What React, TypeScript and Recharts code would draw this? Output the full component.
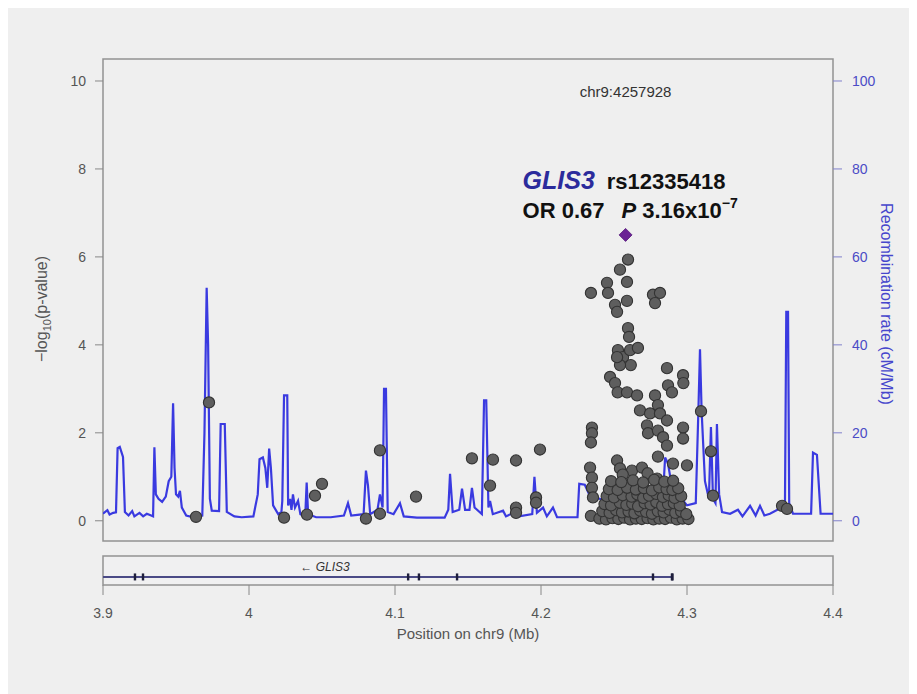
import React from 'react';
import { ComposedChart, Line, Scatter, XAxis, YAxis, ReferenceArea } from 'recharts';

const FONT = '"Liberation Sans", Arial, Helvetica, sans-serif';

// Axes
const X_DOMAIN: [number, number] = [3.9, 4.4];
const X_TICKS = [3.9, 4.0, 4.1, 4.2, 4.3, 4.4];
const P_DOMAIN: [number, number] = [-0.46, 10.5];
const P_TICKS = [0, 2, 4, 6, 8, 10];
const R_DOMAIN: [number, number] = [-4.6, 105];
const R_TICKS = [0, 20, 40, 60, 80, 100];

// Recombination rate (position Mb, cM/Mb)
const RECOMB: [number, number][] = [
  [3.9000, 1.6], [3.9030, 2.4], [3.9045, 1.4], [3.9070, 1.8], [3.9089, 1.9], [3.9100, 16.5], [3.9115, 16.8],
  [3.9137, 14.5], [3.9150, 2.0], [3.9175, 1.2], [3.9200, 2.2], [3.9215, 1.0], [3.9250, 1.8], [3.9275, 1.0],
  [3.9300, 1.6], [3.9330, 1.2], [3.9343, 1.0], [3.9352, 16.7], [3.9362, 6.0], [3.9380, 5.0], [3.9405, 4.3],
  [3.9430, 5.5], [3.9450, 9.0], [3.9468, 10.0], [3.9480, 26.7], [3.9490, 12.0], [3.9500, 6.0], [3.9515, 5.5],
  [3.9527, 6.8], [3.9540, 3.0], [3.9570, 1.2], [3.9620, 0.8], [3.9680, 1.2], [3.9695, 20], [3.9710, 53],
  [3.9720, 40], [3.9732, 5], [3.9745, 2.3], [3.9795, 2.2], [3.9806, 22], [3.9834, 22], [3.9848, 2.0],
  [3.9900, 1.0], [3.9950, 0.8], [4.0030, 1.0], [4.0060, 6.0], [4.0072, 14.0], [4.0095, 14.4], [4.0112, 12.0],
  [4.0125, 7.5], [4.0138, 16.4], [4.0150, 12.0], [4.0165, 3.5], [4.0200, 1.5], [4.0222, 2.0], [4.0228, 4.5],
  [4.0240, 28.5], [4.0262, 28.5], [4.0268, 3.5], [4.0281, 5.0], [4.0291, 2.5], [4.0301, 6.0], [4.0315, 3.0],
  [4.0336, 4.5], [4.0352, 1.5], [4.0385, 1.0], [4.0395, 8.7], [4.0405, 1.5], [4.0460, 0.8], [4.0560, 0.8],
  [4.0650, 1.2], [4.0678, 4.0], [4.0700, 1.2], [4.0785, 1.5], [4.0801, 11.4], [4.0815, 8.0], [4.0830, 1.5],
  [4.0880, 2.5], [4.0897, 6.0], [4.0915, 3.0], [4.0925, 30], [4.0938, 30], [4.0950, 2.0], [4.0990, 1.5],
  [4.1034, 4.0], [4.1060, 1.0], [4.1150, 0.7], [4.1340, 0.7], [4.1365, 2.5], [4.1377, 10.7], [4.1395, 2.0],
  [4.1440, 2.5], [4.1459, 7.3], [4.1480, 2.5], [4.1510, 2.5], [4.1527, 7.5], [4.1545, 3.0], [4.1595, 1.5],
  [4.1610, 27.4], [4.1625, 27.4], [4.1640, 3.0], [4.1651, 4.5], [4.1670, 1.5], [4.1740, 2.3], [4.1760, 1.0],
  [4.1822, 2.0], [4.1850, 1.0], [4.1940, 1.5], [4.1955, 10.0], [4.1972, 1.8], [4.2014, 3.0], [4.2040, 1.0],
  [4.2082, 3.0], [4.2110, 0.8], [4.2250, 0.8], [4.2262, 8.4], [4.2300, 8.2], [4.2330, 6.0], [4.2400, 5.0],
  [4.2500, 4.0], [4.2600, 5.0], [4.2700, 6.0], [4.2800, 5.0], [4.2836, 6.0], [4.2850, 14.4], [4.2870, 13.0],
  [4.2890, 9.0], [4.2940, 6.0], [4.3000, 3.5], [4.3060, 4.0], [4.3078, 25], [4.3089, 39], [4.3100, 25],
  [4.3123, 9.0], [4.3150, 5.0], [4.3164, 21.3], [4.3178, 5.0], [4.3195, 4.0], [4.3205, 22.0], [4.3220, 6.0],
  [4.3240, 2.0], [4.3295, 1.6], [4.3349, 2.5], [4.3380, 1.0], [4.3432, 3.4], [4.3470, 1.2], [4.3500, 3.4],
  [4.3530, 1.2], [4.3568, 1.6], [4.3620, 2.5], [4.3640, 4.0], [4.3671, 4.0], [4.3680, 47.5], [4.3692, 47.5],
  [4.3700, 4.0], [4.3726, 1.6], [4.3850, 1.6], [4.3863, 15.5], [4.3890, 15.0], [4.3915, 1.6], [4.4000, 1.6],
];

// SNPs outside the association peak (position Mb, -log10 p)
const SNPS_FLANK: [number, number][] = [
  [3.9637, 0.09], [3.9726, 2.69], [4.0240, 0.07], [4.0397, 0.14], [4.0452, 0.57], [4.0500, 0.84],
  [4.0801, 0.05], [4.0897, 1.60], [4.0897, 0.16], [4.1144, 0.55], [4.1527, 1.42], [4.1651, 0.80],
  [4.1671, 1.39], [4.1829, 1.37], [4.1829, 0.30], [4.1829, 0.18], [4.1993, 1.62], [4.1966, 0.53],
  [4.1966, 0.41], [4.3096, 2.49], [4.3164, 1.58], [4.3178, 0.57], [4.3651, 0.34], [4.3685, 0.27],
];

// SNPs in the association peak, upper part
const SNPS_PEAK_HIGH: [number, number][] = [
  [4.2596, 5.94], [4.2541, 5.71], [4.2589, 5.43], [4.2452, 5.41], [4.2459, 5.18], [4.2342, 5.18],
  [4.2589, 5.00], [4.2507, 4.91], [4.2521, 4.75], [4.2767, 5.14], [4.2815, 5.18], [4.2781, 4.95],
  [4.2596, 4.38], [4.2603, 4.18], [4.2527, 3.88], [4.2562, 3.72], [4.2610, 3.88], [4.2664, 3.93],
  [4.2615, 3.54], [4.2541, 3.54], [4.2521, 3.72], [4.2473, 3.27], [4.2507, 3.13], [4.2525, 2.92],
  [4.2589, 2.92], [4.2658, 2.85], [4.2781, 2.85], [4.2863, 3.47], [4.2870, 3.08], [4.2897, 2.92],
  [4.2973, 3.31], [4.2975, 3.13], [4.2678, 2.51], [4.2747, 2.44], [4.2801, 2.63], [4.2815, 2.44],
  [4.2863, 2.28], [4.2726, 2.17], [4.2733, 1.99], [4.2801, 2.05], [4.2836, 1.90], [4.2863, 1.71],
  [4.2973, 2.12], [4.2973, 1.87], [4.2801, 1.46], [4.2904, 1.30], [4.3000, 1.26], [4.2521, 1.37],
  [4.2541, 1.19], [4.2623, 1.14], [4.2692, 1.21], [4.2795, 0.96], [4.2493, 0.75], [4.2560, 1.05],
  [4.2730, 1.08], [4.2349, 2.12], [4.2349, 1.99], [4.2342, 1.78], [4.2336, 1.21], [4.2349, 0.98],
  [4.2349, 0.75], [4.2356, 0.53], [4.2342, 0.11],
];

// SNPs in the association peak, dense lower part
const SNPS_PEAK_LOW: [number, number][] = [
  [4.2400, 0.05], [4.2445, 0.03], [4.2490, 0.06], [4.2530, 0.04], [4.2570, 0.07], [4.2610, 0.03],
  [4.2650, 0.05], [4.2690, 0.04], [4.2730, 0.06], [4.2770, 0.03], [4.2810, 0.05], [4.2850, 0.04],
  [4.2890, 0.07], [4.2930, 0.03], [4.2970, 0.05], [4.3010, 0.04],
  [4.2420, 0.22], [4.2470, 0.18], [4.2515, 0.24], [4.2555, 0.19], [4.2600, 0.21], [4.2640, 0.17],
  [4.2680, 0.23], [4.2720, 0.20], [4.2760, 0.16], [4.2800, 0.22], [4.2840, 0.19], [4.2880, 0.25],
  [4.2920, 0.18], [4.2960, 0.21], [4.2995, 0.15],
  [4.2435, 0.38], [4.2480, 0.35], [4.2540, 0.41], [4.2585, 0.36], [4.2625, 0.39], [4.2665, 0.33],
  [4.2710, 0.40], [4.2750, 0.37], [4.2790, 0.42], [4.2830, 0.34], [4.2870, 0.38], [4.2910, 0.40],
  [4.2950, 0.35],
  [4.2450, 0.56], [4.2500, 0.53], [4.2560, 0.58], [4.2620, 0.55], [4.2660, 0.60], [4.2700, 0.52],
  [4.2740, 0.57], [4.2790, 0.61], [4.2835, 0.54], [4.2875, 0.58], [4.2915, 0.52], [4.2960, 0.56],
  [4.2465, 0.72], [4.2525, 0.70], [4.2590, 0.75], [4.2650, 0.71], [4.2705, 0.74], [4.2760, 0.69],
  [4.2810, 0.76], [4.2860, 0.72], [4.2900, 0.70], [4.2940, 0.74],
  [4.2480, 0.90], [4.2550, 0.88], [4.2630, 0.92], [4.2700, 0.87], [4.2775, 0.93], [4.2845, 0.89],
  [4.2905, 0.91],
];

// Lead SNP
const LEAD_NAME = 'rs12335418';
const LEAD_CHRPOS = 'chr9:4257928';
const LEAD_POS = 4.257928;
const LEAD_LOGP = 6.5;
const LEAD_OR = '0.67';
const LEAD_P = '3.16';
const LEAD_P_EXP = '\u22127';

// Gene track
const GENE_NAME = 'GLIS3';
const GENE_START = 3.814128;
const GENE_END = 4.290036;
const EXONS = [3.9219, 3.9274, 4.1090, 4.1164, 4.1425, 4.2767, 4.2897, GENE_END];

const recombData = RECOMB.map(([pos, rate]) => ({ pos, rate }));
const snpData = [...SNPS_FLANK, ...SNPS_PEAK_HIGH, ...SNPS_PEAK_LOW].map(([pos, logp]) => ({ pos, logp }));
const leadData = [{ pos: LEAD_POS, logp: LEAD_LOGP }];
const geneLine = [
  { pos: Math.max(GENE_START, X_DOMAIN[0]), y: 0 },
  { pos: Math.min(GENE_END, X_DOMAIN[1]), y: 0 },
];
const geneLabelData = [{ pos: (GENE_START + GENE_END) / 2, y: 0 }];
const exonData = EXONS.map((pos) => ({ pos, y: 0 }));

const SnpDot = (props: any) => {
  const { cx, cy } = props;
  if (cx == null || cy == null) return null;
  return <circle cx={cx} cy={cy} r={5.6} fill="#5e5e5e" stroke="#333" strokeWidth={1.1} />;
};

const LeadShape = (props: any) => {
  const { cx, cy } = props;
  if (cx == null || cy == null) return null;
  const d = 6.5;
  return (
    <g fontFamily={FONT}>
      <text x={cx} y={cy - 138} textAnchor="middle" fontSize={15} fill="#333">{LEAD_CHRPOS}</text>
      <text x={cx - 103} y={cy - 46} fontWeight="bold">
        <tspan fill="#2b2b9c" fontStyle="italic" fontSize={25}>{GENE_NAME}</tspan>
        <tspan dx={12} fill="#111" fontSize={22}>{LEAD_NAME}</tspan>
      </text>
      <text x={cx - 103} y={cy - 17} fontWeight="bold" fontSize={22} fill="#111">
        <tspan>{'OR ' + LEAD_OR}</tspan>
        <tspan dx={17} fontStyle="italic">P</tspan>
        <tspan dx={6}>{LEAD_P + 'x10'}</tspan>
        <tspan fontSize={14} dy={-10}>{LEAD_P_EXP}</tspan>
      </text>
      <polygon points={`${cx},${cy - d} ${cx + d},${cy} ${cx},${cy + d} ${cx - d},${cy}`} fill="#6b2394" stroke="#55187a" strokeWidth={0.8} />
    </g>
  );
};

const ExonShape = (props: any) => {
  const { cx, cy } = props;
  if (cx == null || cy == null) return null;
  return <rect x={cx - 1.2} y={cy - 3.5} width={2.4} height={7} fill="#1e1e3c" />;
};

const GeneLabel = (props: any) => {
  const { cx, cy } = props;
  if (cx == null || cy == null) return null;
  return (
    <text x={cx} y={cy - 6} textAnchor="middle" fontSize={12} fontStyle="italic" fill="#333" fontFamily={FONT}>
      {'\u2190 ' + GENE_NAME}
    </text>
  );
};

const fmtX = (v: number) => String(Math.round(v * 10) / 10);

export default function App() {
  return (
    <div style={{ position: 'relative', width: 909, height: 686, background: '#efefef', overflow: 'hidden' }}>
      <div style={{ position: 'absolute', left: 0, top: 0 }}>
        <ComposedChart width={909} height={560} margin={{ top: 51, right: 24, bottom: 27, left: 35 }}>
          <XAxis type="number" dataKey="pos" domain={X_DOMAIN} allowDataOverflow hide />
          <YAxis
            yAxisId="left"
            orientation="left"
            type="number"
            domain={P_DOMAIN}
            ticks={P_TICKS}
            allowDataOverflow
            width={60}
            axisLine={false}
            tickSize={8}
            tickMargin={9}
            tickLine={{ stroke: '#888' }}
            tick={{ fill: '#555', fontSize: 14, fontFamily: FONT }}
          />
          <YAxis
            yAxisId="right"
            orientation="right"
            type="number"
            domain={R_DOMAIN}
            ticks={R_TICKS}
            allowDataOverflow
            width={60}
            axisLine={false}
            tickSize={9}
            tickMargin={10}
            tickLine={{ stroke: '#8080cc' }}
            tick={{ fill: '#4b4bc6', fontSize: 14, fontFamily: FONT }}
          />
          <ReferenceArea yAxisId="left" x1={X_DOMAIN[0]} x2={X_DOMAIN[1]} y1={P_DOMAIN[0]} y2={P_DOMAIN[1]} fill="none" stroke="#929292" strokeWidth={1.5} />
          <Line yAxisId="right" data={recombData} dataKey="rate" type="linear" stroke="#3a3ae0" strokeWidth={2.2} dot={false} activeDot={false} isAnimationActive={false} />
          <Scatter yAxisId="left" data={snpData} dataKey="logp" shape={SnpDot} isAnimationActive={false} />
          <Scatter yAxisId="left" data={leadData} dataKey="logp" shape={LeadShape} isAnimationActive={false} />
        </ComposedChart>
      </div>
      <div style={{ position: 'absolute', left: 0, top: 530 }}>
        <ComposedChart width={909} height={130} margin={{ top: 18, right: 84, bottom: 43, left: 95 }}>
          <XAxis
            type="number"
            dataKey="pos"
            domain={X_DOMAIN}
            ticks={X_TICKS}
            allowDataOverflow
            height={40}
            axisLine={false}
            tickSize={10}
            tickMargin={13}
            tickFormatter={fmtX}
            tickLine={{ stroke: '#888' }}
            tick={{ fill: '#555', fontSize: 14, fontFamily: FONT }}
          />
          <YAxis yAxisId="g" type="number" domain={[-1, 2.6]} allowDataOverflow hide />
          <ReferenceArea yAxisId="g" x1={X_DOMAIN[0]} x2={X_DOMAIN[1]} y1={-1} y2={2.6} fill="#f2f2f4" stroke="#929292" strokeWidth={1.5} />
          <Line yAxisId="g" data={geneLine} dataKey="y" stroke="#4a4a86" strokeWidth={2} dot={false} activeDot={false} isAnimationActive={false} />
          <Scatter yAxisId="g" data={exonData} dataKey="y" shape={ExonShape} isAnimationActive={false} />
          <Scatter yAxisId="g" data={geneLabelData} dataKey="y" shape={GeneLabel} isAnimationActive={false} />
        </ComposedChart>
      </div>
      <svg width={909} height={686} style={{ position: 'absolute', left: 0, top: 0, pointerEvents: 'none' }}>
        <text transform="translate(39,301) rotate(-90)" textAnchor="middle" fontSize={16} fill="#555" fontFamily={FONT}>
          {'\u2212log'}
          <tspan fontSize={11} dy={4}>10</tspan>
          <tspan dy={-4}>(p-value)</tspan>
        </text>
        <text transform="translate(873,296) rotate(90)" textAnchor="middle" fontSize={16} fill="#4646cc" fontFamily={FONT}>
          Recombination rate (cM/Mb)
        </text>
        <text x={460} y={631} textAnchor="middle" fontSize={15} fill="#555" fontFamily={FONT}>
          Position on chr9 (Mb)
        </text>
      </svg>
    </div>
  );
}
